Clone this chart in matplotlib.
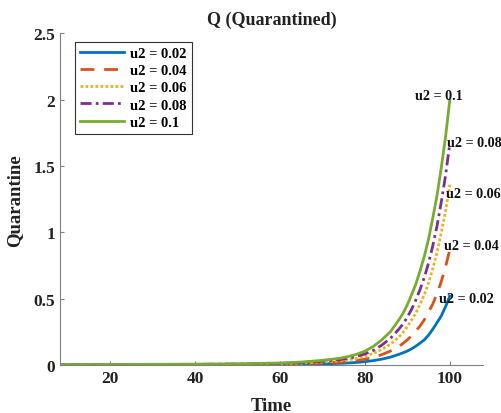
import matplotlib
matplotlib.use("Agg")
import matplotlib.pyplot as plt

plt.rcParams['font.family'] = ['Liberation Serif', 'DejaVu Serif']
plt.rcParams['font.weight'] = 'bold'

t = [0, 10, 20, 30, 40, 50, 60, 65, 70, 74, 76, 78, 80, 82, 84, 86, 88, 89, 90,
     91, 92, 93, 94, 95, 96, 97, 98, 99, 100]
q_002 = [0.001, 0.001, 0.002, 0.002, 0.002, 0.003, 0.004, 0.006, 0.009, 0.012, 0.015, 0.019, 0.025,
         0.033, 0.044, 0.059, 0.080, 0.092, 0.105, 0.122, 0.142, 0.165, 0.19, 0.225, 0.27, 0.32,
         0.37, 0.44, 0.52]
q_004 = [0.001, 0.002, 0.002, 0.003, 0.003, 0.004, 0.007, 0.010, 0.015, 0.021, 0.026, 0.034, 0.043,
         0.058, 0.078, 0.105, 0.14, 0.163, 0.19, 0.22, 0.255, 0.295, 0.34, 0.40, 0.46, 0.54,
         0.63, 0.74, 0.87]
q_006 = [0.002, 0.002, 0.003, 0.003, 0.004, 0.006, 0.010, 0.014, 0.022, 0.031, 0.039, 0.050, 0.065,
         0.087, 0.117, 0.157, 0.21, 0.245, 0.29, 0.34, 0.39, 0.46, 0.53, 0.62, 0.73, 0.85,
         1.00, 1.16, 1.36]
q_008 = [0.002, 0.003, 0.003, 0.004, 0.005, 0.007, 0.012, 0.018, 0.028, 0.040, 0.050, 0.064, 0.083,
         0.11, 0.15, 0.20, 0.27, 0.31, 0.36, 0.42, 0.49, 0.57, 0.66, 0.77, 0.90, 1.05,
         1.23, 1.43, 1.67]
q_010 = [0.002, 0.003, 0.004, 0.005, 0.006, 0.009, 0.015, 0.022, 0.035, 0.050, 0.063, 0.080, 0.104,
         0.14, 0.19, 0.25, 0.34, 0.39, 0.455, 0.53, 0.61, 0.71, 0.82, 0.95, 1.11, 1.28,
         1.49, 1.72, 2.0]

labels = ['u2 = 0.02', 'u2 = 0.04', 'u2 = 0.06', 'u2 = 0.08', 'u2 = 0.1']
series = [q_002, q_004, q_006, q_008, q_010]
colors = ['#0072BD', '#D95319', '#EDB120', '#7E2F8E', '#77AC30']
styles = ['-', (0, (5, 3.5)), (0, (1, 0.8)), (0, (4, 1.5, 1, 1.5)), '-']

# annotation positions (x, y)
ann_x = [97.4, 98.6, 99.0, 99.3, 91.7]
ann_y = [0.50, 0.90, 1.29, 1.68, 2.03]

fig = plt.figure(figsize=(5.02, 4.14), dpi=100)
ax = fig.add_axes([0.1195, 0.116, 0.8425, 0.8007])

for y, lab, c, ls in zip(series, labels, colors, styles):
    ax.plot(t, y, color=c, linestyle=ls, linewidth=2.0, label=lab)

for lab, xa, ya in zip(labels, ann_x, ann_y):
    ax.text(xa, ya, lab, ha='left', va='center', fontsize=10.2, fontweight='bold',
            color='#111111', clip_on=False)

ax.set_xlim(8.2, 107.8)
ax.set_ylim(0, 2.5)
ax.set_xticks([20, 40, 60, 80, 100])
ax.set_yticks([0, 0.5, 1, 1.5, 2, 2.5])
ax.set_yticklabels(['0', '0.5', '1', '1.5', '2', '2.5'])

for s in ['top', 'right']:
    ax.spines[s].set_visible(False)
for s in ['left', 'bottom']:
    ax.spines[s].set_color('#808080')
    ax.spines[s].set_linewidth(0.8)

ax.tick_params(direction='in', length=3, width=0.8, color='#808080', labelsize=12.5, labelcolor='#222222')
for lbl in ax.get_xticklabels() + ax.get_yticklabels():
    lbl.set_fontweight('bold')

ax.set_title('Q (Quarantined)', fontsize=13, fontweight='bold', color='#222222', pad=7)
ax.set_xlabel('Time', fontsize=13.5, fontweight='bold', color='#222222', labelpad=8)
ax.set_ylabel('Quarantine', fontsize=13.5, fontweight='bold', color='#222222', labelpad=7)

leg = ax.legend(loc='upper left', bbox_to_anchor=(0.036, 0.975), fontsize=10.5,
                frameon=True, fancybox=False, edgecolor='#333333', framealpha=1,
                handlelength=3.0, handletextpad=0.4, labelspacing=0.27, borderpad=0.35,
                borderaxespad=0)
leg.get_frame().set_linewidth(0.8)
for txt in leg.get_texts():
    txt.set_fontweight('bold')

fig.savefig('out.png', dpi=100)
